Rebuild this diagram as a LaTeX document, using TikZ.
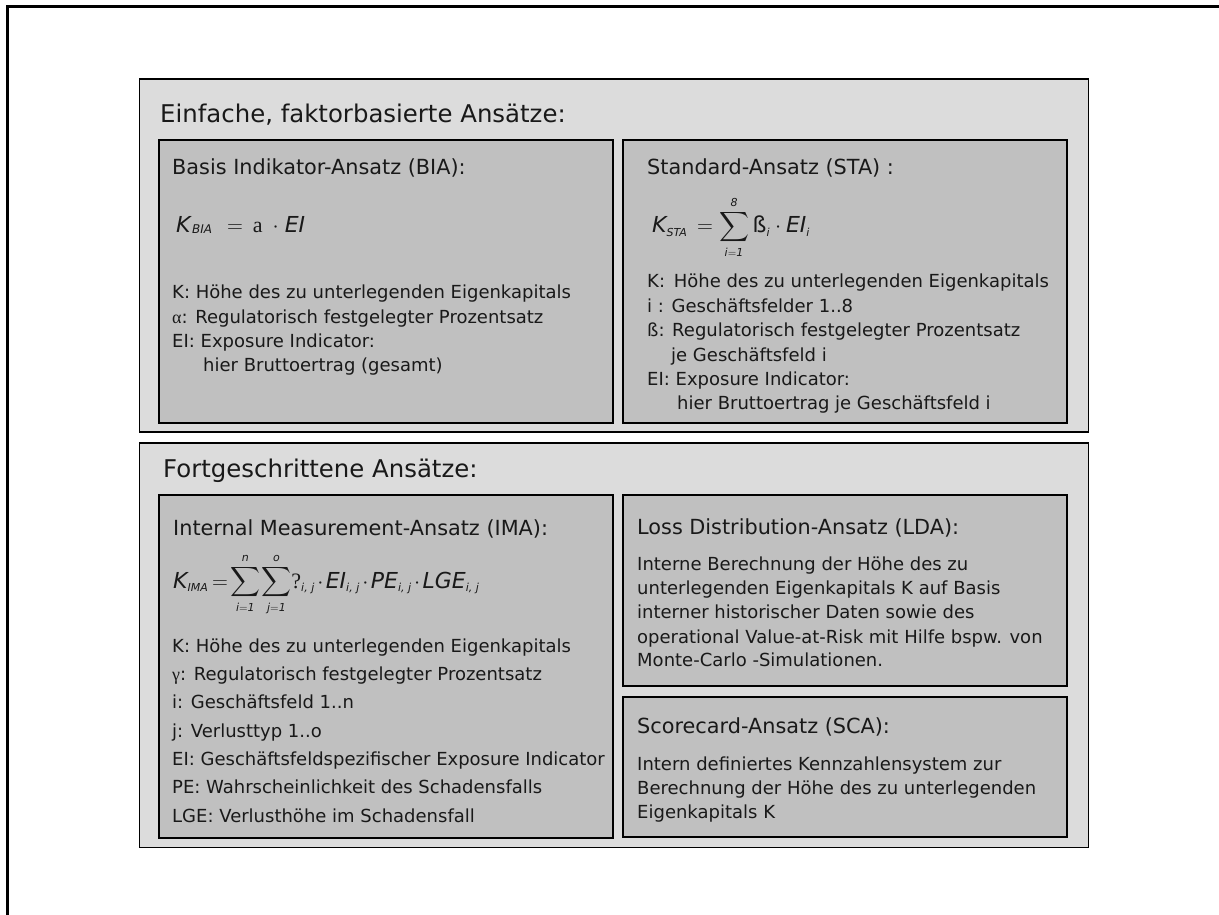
\documentclass[tikz,border=0pt]{standalone}
\usepackage{fix-cm}
\usepackage{amsmath}
\usepackage{fontspec}
\setmainfont{DejaVu Sans}
\newfontfamily\seriffont{Liberation Serif}
\DeclareMathSizes{22}{22}{11}{9}
\definecolor{grpfill}{HTML}{DCDCDC}
\definecolor{boxfill}{HTML}{C0C0C0}
\newcommand\fsz[1]{\fontsize{#1}{#1}\selectfont}
\newcommand\md{\mkern2mu\mathord{\cdot}\mkern2mu}
\tikzset{
  frame/.style={line width=3pt, draw=black},
  grp/.style={fill=grpfill, draw=black, line width=1.6pt},
  inbox/.style={fill=boxfill, draw=black, line width=1.6pt},
  txt/.style={anchor=base west, inner sep=0pt, font=\fsz{18}, text=black!90},
  head/.style={txt, font=\fsz{20.8}},
  title/.style={txt, font=\fsz{24.4}},
  formula/.style={txt, font=\fsz{22}}
}
\begin{document}
\begin{tikzpicture}[x=1pt,y=-1pt]
\useasboundingbox (0,0) rectangle (1219,915);
% outer frame (cut at right and bottom)
\coordinate (fa) at (7.5,915);
\coordinate (fb) at (7.5,6.5);
\coordinate (fc) at (1219,6.5);
\draw[frame] (fa) -- (fb) -- (fc);
% group boxes
\draw[grp] (139.5,79) rectangle (1088.5,432);
\draw[grp] (139.5,443) rectangle (1088.5,847.5);
% inner boxes
\draw[inbox] (159,140) rectangle (613,423);
\draw[inbox] (623,140) rectangle (1067,423);
\draw[inbox] (159,495) rectangle (613,838);
\draw[inbox] (623,495) rectangle (1067,686);
\draw[inbox] (623,697) rectangle (1067,837);
% titles
\node[title] (t1) at (160,123) {Einfache, faktorbasierte Ansätze:};
\node[title] (t2) at (163,477) {Fortgeschrittene Ansätze:};
% BIA
\node[head] (hbia) at (172,175) {Basis Indikator-Ansatz (BIA):};
\node[formula] (fbia) at (176,233) {\textit{K}\raisebox{-1pt}{\fsz{12}\textit{BIA}}\hspace{15pt}$=$\hspace{10pt}{\seriffont a}\hspace{10pt}$\cdot$\hspace{6pt}\textit{EI}};
\node[txt] (bia1) at (172,298) {K: Höhe des zu unterlegenden Eigenkapitals};
\node[txt] (bia2) at (172,323) {{\seriffont α}: Regulatorisch festgelegter Prozentsatz};
\node[txt] (bia3) at (172,347) {EI: Exposure Indicator:};
\node[txt] (bia4) at (203,371) {hier Bruttoertrag (gesamt)};
% STA
\node[head] (hsta) at (647,175) {Standard-Ansatz (STA) :};
\node[formula] (fsta) at (652,233) {$\textit{K}_{\textit{STA}}\,=\displaystyle\sum_{\textit{i}=\textit{1}}^{\textit{8}}\text{ß}_{\textit{i}}\cdot\textit{EI}_{\textit{i}}$};
\node[txt] (sta1) at (647,287) {K:\, Höhe des zu unterlegenden Eigenkapitals};
\node[txt] (sta2) at (647,312) {i : Geschäftsfelder 1..8};
\node[txt] (sta3) at (647,336) {ß: Regulatorisch festgelegter Prozentsatz};
\node[txt] (sta4) at (671,361) {je Geschäftsfeld i};
\node[txt] (sta5) at (647,385) {EI: Exposure Indicator:};
\node[txt] (sta6) at (677,409) {hier Bruttoertrag je Geschäftsfeld i};
% IMA
\node[head] (hima) at (173,535) {Internal Measurement-Ansatz (IMA):};
\node[formula] (fima) at (173,588) {$\textit{K}_{\textit{IMA}}\mkern-2mu=\mkern-3mu\displaystyle\sum_{\textit{i}=\textit{1}}^{\textit{n}}\mkern-2mu\sum_{\textit{j}=\textit{1}}^{\textit{o}}\mkern-3mu\text{\seriffont ?}_{\textit{i, j}}\md\textit{EI}_{\textit{i, j}}\md\textit{PE}_{\textit{i, j}}\md\textit{LGE}_{\textit{i, j}}$};
\node[txt] (ima1) at (172,652) {K: Höhe des zu unterlegenden Eigenkapitals};
\node[txt] (ima2) at (172,680) {{\seriffont γ}: Regulatorisch festgelegter Prozentsatz};
\node[txt] (ima3) at (172,708) {i: Geschäftsfeld 1..n};
\node[txt] (ima4) at (172,737) {j: Verlusttyp 1..o};
\node[txt] (ima5) at (172,765) {EI: Geschäftsfeldspezifischer Exposure Indicator};
\node[txt] (ima6) at (172,793) {PE: Wahrscheinlichkeit des Schadensfalls};
\node[txt] (ima7) at (172,822) {LGE: Verlusthöhe im Schadensfall};
% LDA
\node[head] (hlda) at (637,534) {Loss Distribution-Ansatz (LDA):};
\node[txt] (lda1) at (637,570) {Interne Berechnung der Höhe des zu};
\node[txt] (lda2) at (637,594) {unterlegenden Eigenkapitals K auf Basis};
\node[txt] (lda3) at (637,618) {interner historischer Daten sowie des};
\node[txt] (lda4) at (637,643) {operational Value-at-Risk mit Hilfe bspw. von};
\node[txt] (lda5) at (637,666) {Monte-Carlo -Simulationen.};
% SCA
\node[head] (hsca) at (637,733) {Scorecard-Ansatz (SCA):};
\node[txt] (sca1) at (637,770) {Intern definiertes Kennzahlensystem zur};
\node[txt] (sca2) at (637,794) {Berechnung der Höhe des zu unterlegenden};
\node[txt] (sca3) at (637,818) {Eigenkapitals K};
\end{tikzpicture}
\end{document}
